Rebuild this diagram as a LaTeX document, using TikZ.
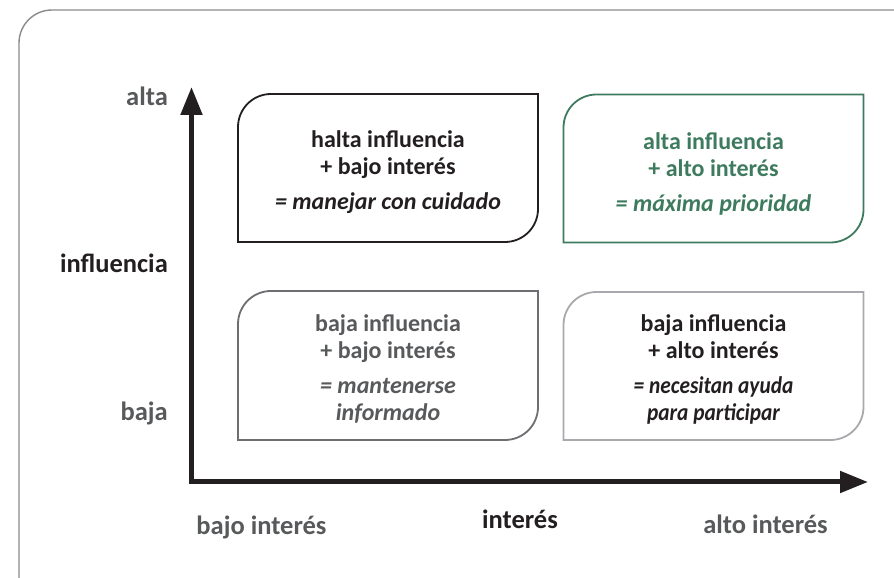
\documentclass[tikz,border=0pt]{standalone}
\usepackage{fontspec}
\usepackage{graphicx}
\setmainfont{Carlito}
\usetikzlibrary{arrows.meta}
\definecolor{txtgray}{HTML}{58595B}
\definecolor{txtblack}{HTML}{231F20}
\definecolor{boxgreen}{HTML}{3E7B5E}
\definecolor{boxgray}{HTML}{6D6E71}
\definecolor{boxlight}{HTML}{A7A9AC}
\definecolor{framegray}{HTML}{8A8B8D}
\newcommand\qboxline[3]{%
  \draw[#2] (#1.south west) -- ([yshift=-#3]#1.north west)
    arc[start angle=180,end angle=90,radius=#3] -- (#1.north east)
    -- ([yshift=#3]#1.south east)
    arc[start angle=0,end angle=-90,radius=#3] -- cycle;}
\newcommand\cond[1]{\scalebox{0.89}[1]{#1}}
\begin{document}
\begin{tikzpicture}[x=1pt,y=1pt,
  quad/.style={rectangle,draw=none,inner sep=0pt,outer sep=0pt,
    minimum width=300pt,minimum height=148pt},
  quadtext/.style={inner sep=0pt,align=center,
    font=\fontsize{24}{27}\selectfont\bfseries},
  axislabel/.style={inner sep=0pt,font=\fontsize{26.5}{30}\selectfont\bfseries},
  axisline/.style={line width=5pt,draw=txtblack,line join=miter,
    {Triangle[length=28pt,width=21pt]}-{Triangle[length=28pt,width=21pt]}}
]
\useasboundingbox (0,0) rectangle (894,578);
% outer frame
\begin{scope}
\clip (0,0) rectangle (894,578);
\draw[framegray,line width=1.4pt] (19,-10) -- (19,535)
  arc[start angle=180,end angle=90,radius=33] -- (910,568);
\end{scope}
% quadrant boxes
\node[quad] (tl) at (388,410) {};
\node[quad] (tr) at (713.5,409.5) {};
\node[quad,minimum height=149pt] (bl) at (388,212.5) {};
\node[quad] (br) at (713.5,212) {};
\qboxline{tl}{txtblack,line width=1.8pt}{33pt}
\qboxline{tr}{boxgreen,line width=1.8pt}{33pt}
\qboxline{bl}{boxgray,line width=1.8pt}{33pt}
\qboxline{br}{boxlight,line width=1.8pt}{33pt}
\node[quadtext,text=txtblack] (tlt) at ([yshift=-4pt]tl.center) {halta influencia\\+ bajo interés\\[8pt]\itshape = manejar con cuidado};
\node[quadtext,text=boxgreen] (trt) at ([yshift=-5pt]tr.center) {alta influencia\\+ alto interés\\[8pt]\itshape = máxima prioridad};
\node[quadtext,text=txtgray] (blt) at ([yshift=-3pt]bl.center) {baja influencia\\+ bajo interés\\[8pt]\itshape = mantenerse\\\itshape informado};
\node[quadtext,text=txtblack] (brt) at ([yshift=-3.5pt]br.center) {baja influencia\\+ alto interés\\[8pt]\cond{\itshape = necesitan ayuda}\\\cond{\itshape para participar}};
% axes
\coordinate (ytip) at (191.5,491);
\coordinate (origin) at (191.5,96);
\coordinate (xtip) at (868,96);
\draw[axisline] (ytip) -- (origin) -- (xtip);
% axis labels
\node[axislabel,text=txtgray,anchor=east] (alta) at (168,482) {alta};
\node[axislabel,text=txtblack,anchor=east] (infl) at (168,315) {influencia};
\node[axislabel,text=txtgray,anchor=east] (baja) at (168,165) {baja};
\node[axislabel,text=txtgray] (bajoint) at (261.5,51) {bajo interés};
\node[axislabel,text=txtblack] (interes) at (520,59) {interés};
\node[axislabel,text=txtgray] (altoint) at (765.5,54) {alto interés};
\end{tikzpicture}
\end{document}
